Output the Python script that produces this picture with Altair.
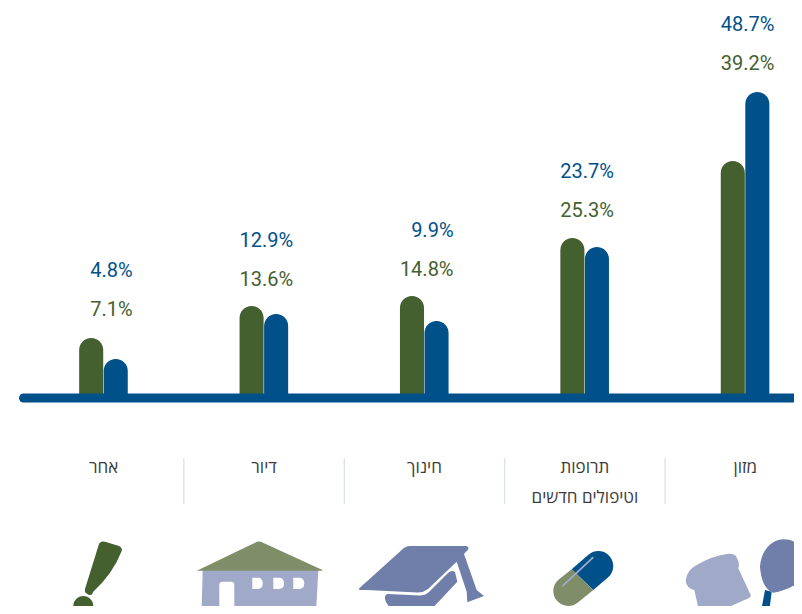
import re
import altair as alt
import pandas as pd

GREEN = "#44602f"
BLUE = "#00508a"
SAGE = "#7f8d69"
PERI = "#a1a9c9"
SLATE = "#6f7fa9"

# left-to-right order as drawn
line1 = ["אחר", "דיור", "חינוך", "תרופות", "מזון"]
line2 = ["", "", "", "וטיפולים חדשים", ""]
green_pct = [7.1, 13.6, 14.8, 25.3, 39.2]
blue_pct = [4.8, 12.9, 9.9, 23.7, 48.7]
# drawn bar heights above the baseline
green_height = [60, 92, 102, 160, 237]
blue_height = [39, 84, 77, 151, 306]
# heights of the value captions above the baseline
green_label_level = [88, 118, 128, 187, 334]
blue_label_level = [127, 157, 167, 226, 373]

ICON_Y = 578
icon_x = [103.7, 264.1, 424.5, 584.9, 745.3]
icon_parts = [
    (0, GREEN, "M101.7 541.7 Q104 541 106 542 L119 546 Q122.5 547.5 121.7 551 Q113 573.5 93 592 Q92.5 595.5 89 595 L86 593 Q84.5 592 85 589 L99 544 Q99.7 542 101.7 541.7 Z"),
    (0, GREEN, "M83.3 596 C88.8 596 93.3 600.5 93.3 606 C93.3 611.5 88.8 616 83.3 616 C77.8 616 73.3 611.5 73.3 606 C73.3 600.5 77.8 596 83.3 596 Z"),
    (1, PERI, "M202.7 570 L318.3 570 L316 614 L234.3 613.5 L234.3 585 Q234.3 581.7 231 581.7 L222.5 581.7 Q219.3 581.7 219.3 585 L219.3 612.5 L206 612 Q201.7 612 201.7 607 Z "
              "M252.3 577.7 L252.3 589 L258 589 Q262.7 589 262.7 583.3 Q262.7 577.7 258 577.7 Z "
              "M273.3 577.7 L273.3 589 L279 589 Q284 589 284 583.3 Q284 577.7 279 577.7 Z "
              "M293.3 577.7 L293.3 589 L299 589 Q304.3 589 304.3 583.3 Q304.3 577.7 299 577.7 Z"),
    (1, SAGE, "M197.3 570.5 L255.5 542.5 Q259 540.5 262.5 542.5 L322.5 570 L322.3 570.7 L197.3 570.7 Z"),
    (2, SLATE, "M359 588.5 L401.7 550 Q405 546.3 410 546 L466 546 Q469 546.5 468.3 549.3 L464 554 L476.7 590 L484 596 L467.3 602.3 L466.7 591.7 L456.7 561.7 L428 589 Q423 592.7 418 592.5 L366.7 590 L360 590 Q358.5 589.5 359 588.5 Z"),
    (2, SLATE, "M388 594 L420 595.5 Q425 595.5 429 592 L448 573 Q452 569.5 455 572 L457.3 581.7 L433.3 607.3 Q429 611 425 611 L400 610 Q393 609.5 390 607.3 Q384.5 602 385 597 Q385.5 594 388 594 Z"),
    (3, BLUE, "M571.7 569.3 L588.7 554.5 C595.1 549.2 604.5 550 609.8 556.4 C615.1 562.8 614.3 572.2 607.9 577.5 L593.3 590 Z"),
    (3, SAGE, "M571.7 569.3 L558.7 579.5 C552.3 584.8 551.5 594.2 556.8 600.6 C562.1 607 571.5 607.8 577.9 602.5 L593.3 590 Z"),
    (3, PERI, "M562 585.2 L592.8 556.6 L593.8 558 L563 586.8 Z"),
    (4, PERI, "M685.7 580 Q687 570 696.7 565 Q712 556 726.7 554 Q735 553 737 558 Q740 564 738.3 568.3 L750.7 595 Q751 597 749 598 L713.3 614 L700 615 L694.3 590 Q686 588 685.7 580 Z"),
    (4, BLUE, "M765 590 L771.7 591.7 L769.5 609 Q769.5 614 767 616 L752 616 Q750 610 755 608 L762 606 Z"),
    (4, SLATE, "M783 539.3 C795 539 806 548 810 560 C810 580 790 590 773.3 592.7 C765 590 761 580 760 566.7 C761 552 770 540 783 539.3 Z"),
]

def to_local(path, ox, oy):
    """Rewrite a glyph's outline as offsets from its anchor, in the symbol's own units."""
    nums = iter(range(10**6))
    def shift(m):
        k = next(nums)
        v = float(m.group(0))
        return f"{v - (ox if k % 2 == 0 else oy):.1f}"
    return re.sub(r"-?\d+(?:\.\d+)?", shift, path)

BASE_PAGE_Y = 398
ICON_LEVEL = BASE_PAGE_Y - ICON_Y

n = len(line1)
groups = pd.DataFrame({
    "i": range(n), "line1": line1, "line2": line2,
    "gh": green_height, "bh": blue_height,
    "gp": [f"{v}%" for v in green_pct], "bp": [f"{v}%" for v in blue_pct],
    "gl": green_label_level, "bl": blue_label_level,
})
groups["gx1"] = groups.i - 0.153
groups["gx2"] = groups.i - 0.003
groups["bx1"] = groups.i + 0.000
groups["bx2"] = groups.i + 0.150
groups["tx"] = groups.i + 0.181

seps = pd.DataFrame({"x": [0.5, 1.5, 2.5, 3.5], "y1": [-60] * 4, "y2": [-106] * 4})
base = pd.DataFrame({"x": [-0.5], "x2": [4.6], "y": [0]})
icons = pd.DataFrame([
    {"i": g, "color": c, "path": to_local(p, icon_x[g], ICON_Y), "level": ICON_LEVEL, "order": k}
    for k, (g, c, p) in enumerate(icon_parts)
])

X = alt.Scale(domain=[-0.5966, 4.3036], nice=False, zero=False)
Y = alt.Scale(domain=[-208, 390], nice=False, zero=False)
xq = lambda f: alt.X(f"{f}:Q", scale=X, axis=None)
yq = lambda f: alt.Y(f"{f}:Q", scale=Y, axis=None)
RAD = 12

g_bar = alt.Chart(groups).mark_bar(color=GREEN, cornerRadiusTopLeft=RAD, cornerRadiusTopRight=RAD).encode(
    x=xq("gx1"), x2="gx2:Q", y=yq("gh"), y2=alt.datum(0))
b_bar = alt.Chart(groups).mark_bar(color=BLUE, cornerRadiusTopLeft=RAD, cornerRadiusTopRight=RAD).encode(
    x=xq("bx1"), x2="bx2:Q", y=yq("bh"), y2=alt.datum(0))
rule = alt.Chart(base).mark_rule(color=BLUE, strokeWidth=9, strokeCap="round", clip=False).encode(
    x=xq("x"), x2="x2:Q", y=yq("y"))

VAL_FONT = dict(font="Roboto", fontSize=20, align="right", baseline="middle")
g_txt = alt.Chart(groups).mark_text(color=GREEN, **VAL_FONT).encode(x=xq("tx"), y=yq("gl"), text="gp:N")
b_txt = alt.Chart(groups).mark_text(color=BLUE, **VAL_FONT).encode(x=xq("tx"), y=yq("bl"), text="bp:N")

CAT_FONT = dict(font="Open Sans", fontSize=17, align="center", baseline="middle", color="#3c3c3c")
cat1 = alt.Chart(groups).transform_calculate(l="-70").mark_text(**CAT_FONT).encode(x=xq("i"), y=yq("l"), text="line1:N")
cat2 = alt.Chart(groups).transform_calculate(l="-100").mark_text(**CAT_FONT).encode(x=xq("i"), y=yq("l"), text="line2:N")

sep = alt.Chart(seps).mark_rule(color="#d9deea", strokeWidth=1.2).encode(x=xq("x"), y=yq("y1"), y2="y2:Q")

icon = alt.Chart(icons).mark_point(filled=True, opacity=1, strokeWidth=0).encode(
    x=xq("i"), y=yq("level"),
    shape=alt.Shape("path:N", scale=None),
    fill=alt.Fill("color:N", scale=None),
    size=alt.value(4),
    order="order:Q",
)

chart = alt.layer(
    g_bar, b_bar, rule, g_txt, b_txt, sep, cat1, cat2, icon
).properties(width=786, height=598, padding=0, autosize=alt.AutoSizeParams(type="none"),
             background="white").configure_view(stroke=None)

chart.save("out.html", embed_options={"renderer": "svg", "actions": False})
